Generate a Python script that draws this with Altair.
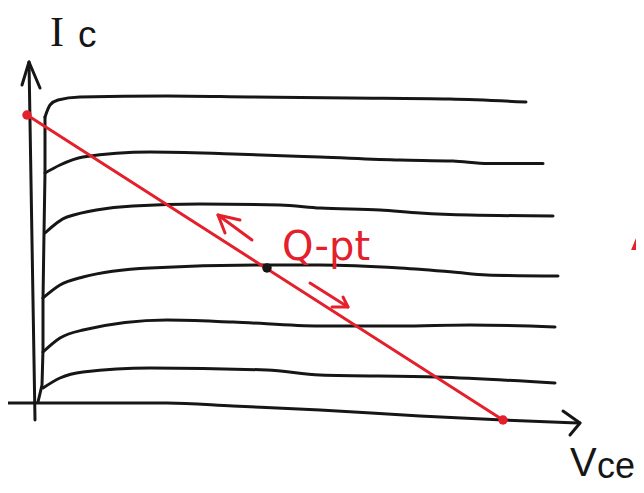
import altair as alt
import pandas as pd

RED = "#e3202b"
INK = "#161616"

# ---- Ic-Vce characteristic curves (one per base current), sketch units ----
vce_ib6 = [0.24, 0.34, 0.50, 0.94, 2.68, 4.34, 6.34, 8.34, 9.86]
ic_ib6 = [5.72, 5.96, 6.06, 6.12, 6.14, 6.12, 6.10, 6.08, 6.02]

vce_ib5 = [0.24, 0.54, 1.00, 2.34, 4.00, 5.74, 7.34, 8.40, 9.10, 10.20]
ic_ib5 = [4.60, 4.76, 4.92, 5.02, 4.98, 4.92, 4.86, 4.84, 4.79, 4.79]

vce_ib4 = [0.24, 0.68, 2.00, 3.34, 4.94, 5.74, 6.94, 7.74, 8.74, 10.40]
ic_ib4 = [3.40, 3.72, 3.94, 3.98, 3.96, 3.90, 3.86, 3.80, 3.76, 3.74]

vce_ib3 = [0.20, 0.54, 1.00, 2.34, 4.68, 5.74, 7.34, 8.40, 9.08, 10.50]
ic_ib3 = [2.10, 2.36, 2.52, 2.70, 2.76, 2.76, 2.70, 2.62, 2.56, 2.54]

vce_ib2 = [0.20, 0.54, 1.00, 2.68, 4.00, 5.74, 7.34, 8.74, 10.44]
ic_ib2 = [1.02, 1.30, 1.46, 1.66, 1.62, 1.54, 1.54, 1.56, 1.52]

vce_ib1 = [0.20, 0.54, 1.00, 2.34, 4.68, 5.74, 8.08, 10.44]
ic_ib1 = [0.30, 0.50, 0.62, 0.70, 0.66, 0.56, 0.52, 0.40]

# Ib = 0 curve, drawn along the Vce axis
vce_ib0 = [-0.50, 2.68, 4.00, 5.74, 7.74, 9.40, 10.94]
ic_ib0 = [0.00, 0.00, -0.06, -0.14, -0.26, -0.34, -0.40]

# saturation edge where the curves rise
vce_sat = [0.10, 0.18, 0.20, 0.20, 0.22, 0.24, 0.24]
ic_sat = [0.02, 0.36, 1.06, 2.06, 3.40, 4.60, 5.72]

# hand-drawn axes and arrowheads
vce_yaxis = [0.04, -0.08]
ic_yaxis = [-0.34, 6.82]
vce_yhead = [-0.22, -0.08, 0.14]
ic_yhead = [6.36, 6.82, 6.30]
vce_xhead = [10.60, 10.94, 10.74]
ic_xhead = [-0.16, -0.40, -0.64]

# load line (Ic(sat) to Vce(cutoff)) and Q-point
vce_load = [-0.12, 9.40]
ic_load = [5.76, -0.34]
vce_q = [4.68]
ic_q = [2.70]

# red arrows along the load line
vce_arrow_up = [4.38, 3.70]
ic_arrow_up = [3.26, 3.76]
vce_arrow_up_head = [4.14, 3.70, 3.84]
ic_arrow_up_head = [3.66, 3.76, 3.40]
vce_arrow_dn = [5.54, 6.30]
ic_arrow_dn = [2.40, 1.92]
vce_arrow_dn_head = [5.98, 6.30, 6.20]
ic_arrow_dn_head = [1.92, 1.92, 2.12]

# labels
label_text = ["I", "c", "Q-pt", "V", "ce", "A"]
label_vce = [0.48, 0.90, 4.98, 10.74, 11.28, 11.96]
label_ic = [7.14, 7.12, 2.86, -1.46, -1.50, 3.06]


def series(name, xs, ys):
    return pd.DataFrame({"series": name, "order": range(len(xs)), "vce": xs, "ic": ys})


curves = pd.concat([
    series("ib6", vce_ib6, ic_ib6),
    series("ib5", vce_ib5, ic_ib5),
    series("ib4", vce_ib4, ic_ib4),
    series("ib3", vce_ib3, ic_ib3),
    series("ib2", vce_ib2, ic_ib2),
    series("ib1", vce_ib1, ic_ib1),
    series("ib0", vce_ib0, ic_ib0),
])
straight_black = pd.concat([
    series("sat", vce_sat, ic_sat),
    series("yaxis", vce_yaxis, ic_yaxis),
    series("yhead", vce_yhead, ic_yhead),
    series("xhead", vce_xhead, ic_xhead),
])
straight_red = pd.concat([
    series("load", vce_load, ic_load),
    series("up", vce_arrow_up, ic_arrow_up),
    series("uph", vce_arrow_up_head, ic_arrow_up_head),
    series("dn", vce_arrow_dn, ic_arrow_dn),
    series("dnh", vce_arrow_dn_head, ic_arrow_dn_head),
])
ends = pd.DataFrame({"vce": vce_load, "ic": ic_load})
qpt = pd.DataFrame({"vce": vce_q, "ic": ic_q})
labels = pd.DataFrame({"text": label_text, "vce": label_vce, "ic": label_ic})

xs = alt.Scale(domain=[-0.5, 12.06], nice=False, zero=False)
ys = alt.Scale(domain=[-1.64, 7.9], nice=False, zero=False)
X = alt.X("vce:Q", scale=xs, axis=None)
Y = alt.Y("ic:Q", scale=ys, axis=None)

curve_layer = alt.Chart(curves).mark_line(
    color=INK, strokeWidth=3, interpolate="monotone", strokeCap="round"
).encode(x=X, y=Y, detail="series:N", order="order:Q")

black_layer = alt.Chart(straight_black).mark_line(
    color=INK, strokeWidth=3, strokeCap="round", strokeJoin="round"
).encode(x=X, y=Y, detail="series:N", order="order:Q")

red_layer = alt.Chart(straight_red).mark_line(
    color=RED, strokeWidth=3, strokeCap="round", strokeJoin="round"
).encode(x=X, y=Y, detail="series:N", order="order:Q")

end_layer = alt.Chart(ends).mark_circle(color=RED, size=90, opacity=1).encode(x=X, y=Y)
q_layer = alt.Chart(qpt).mark_circle(color=INK, size=90, opacity=1).encode(x=X, y=Y)


def label(i, font, size, color, align="left"):
    return alt.Chart(labels.iloc[[i]]).mark_text(
        font=font, fontSize=size, color=color, align=align, baseline="alphabetic"
    ).encode(x=X, y=Y, text="text:N")


chart = alt.layer(
    curve_layer,
    black_layer,
    red_layer,
    end_layer,
    q_layer,
    label(0, "Liberation Serif", 42, INK, "center"),
    label(1, "Liberation Sans", 37, INK),
    label(2, "DejaVu Sans", 40, RED),
    label(3, "Liberation Sans", 40, INK),
    label(4, "Liberation Sans", 36, INK),
    label(5, "Liberation Sans", 54, RED),
).properties(
    width=628,
    height=477,
    autosize=alt.AutoSizeParams(type="none"),
    padding=0,
    background="white",
).configure_view(stroke=None)

chart.save("out.html", embed_options={"renderer": "svg", "actions": False})
